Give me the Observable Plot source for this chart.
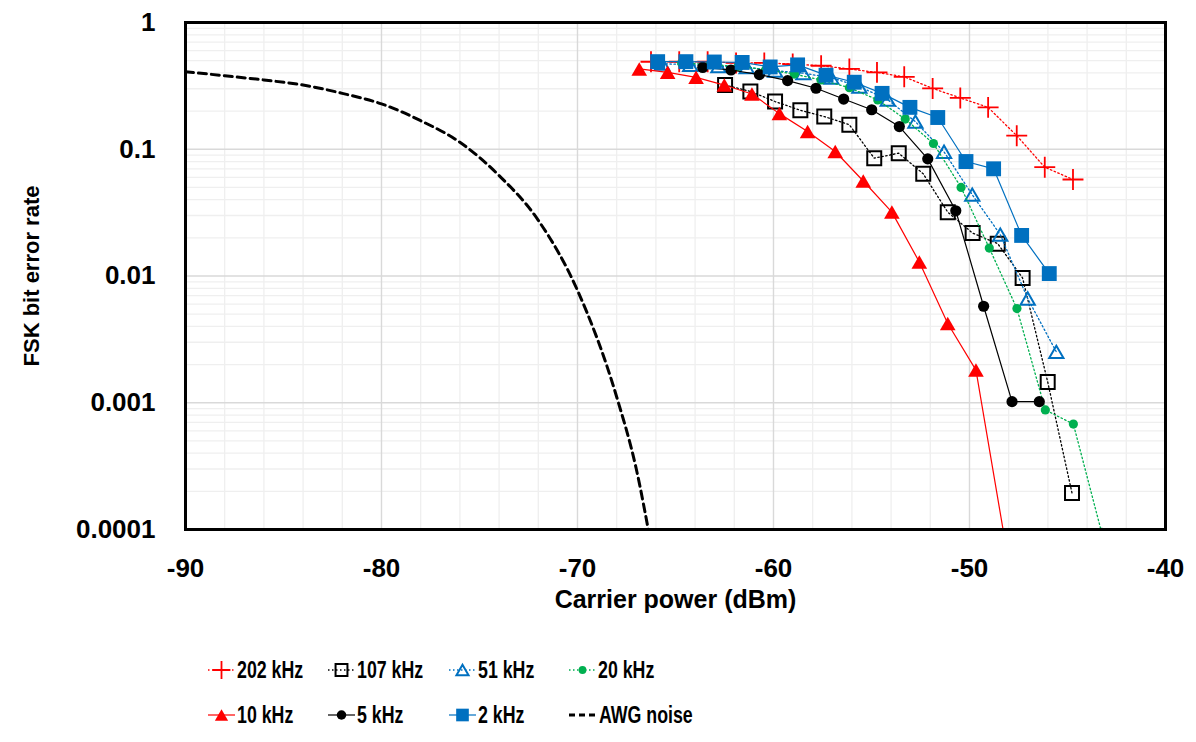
<!DOCTYPE html>
<html><head><meta charset="utf-8">
<script src="https://cdn.jsdelivr.net/npm/d3@7"></script>
<script src="https://cdn.jsdelivr.net/npm/@observablehq/plot@0.6"></script>
<style>
body{margin:0;background:#fff;font-family:"Liberation Sans",Arial,sans-serif;}
#wrap{position:relative;width:1196px;height:742px;overflow:hidden;background:#fff;}
#chart{position:absolute;left:0;top:0;}
.leg{position:absolute;height:30px;}
.leg svg{position:absolute;left:0;top:0;}
.leg span{position:absolute;left:29px;top:0;line-height:30px;font-weight:bold;font-size:24px;display:inline-block;transform:scaleX(0.74);transform-origin:left center;white-space:nowrap;color:#000;}
</style></head><body><div id="wrap"><div id="chart"></div></div>
<script>
// ---- data ----
const seriesNames = ["202 kHz","107 kHz","51 kHz","20 kHz","10 kHz","5 kHz","2 kHz","AWG noise"];

const x202 = [-66.25,-64.81,-63.36,-61.91,-60.47,-59.02,-57.57,-56.13,-54.72,-53.33,-51.88,-50.47,-49.05,-47.59,-46.16,-44.72];
const y202 = [0.49,0.49,0.49,0.48,0.48,0.47,0.456,0.43,0.404,0.373,0.302,0.254,0.214,0.128,0.0722,0.0577];

const x107 = [-62.47,-61.18,-59.92,-58.63,-57.41,-56.13,-54.86,-53.61,-52.36,-51.11,-49.84,-48.56,-47.29,-46.01,-44.77];
const y107 = [0.321,0.286,0.238,0.203,0.181,0.156,0.085,0.0931,0.064,0.0319,0.0218,0.018,0.00964,0.00146,0.000194];

const x51 = [-65.69,-64.25,-62.81,-61.37,-59.92,-58.48,-57.05,-55.62,-54.17,-52.76,-51.30,-49.86,-48.43,-47.03,-45.57];
const y51 = [0.473,0.464,0.452,0.444,0.417,0.398,0.367,0.312,0.246,0.165,0.0954,0.0438,0.0212,0.00664,0.00252];

const x20 = [-64.69,-63.24,-61.81,-60.39,-58.94,-57.58,-56.13,-54.68,-53.28,-51.84,-50.43,-48.99,-47.58,-46.13,-44.70,-43.26];
const y20 = [0.48,0.465,0.45,0.425,0.392,0.352,0.306,0.245,0.173,0.111,0.050,0.0166,0.00553,0.000877,0.000679,0.000095];

const x10 = [-66.85,-65.40,-63.95,-62.51,-61.10,-59.70,-58.26,-56.85,-55.42,-53.96,-52.56,-51.11,-49.67,-48.21];
const y10 = [0.43,0.404,0.369,0.321,0.273,0.191,0.138,0.096,0.0562,0.0319,0.0129,0.00422,0.00181,0.000085];

const x5 = [-63.61,-62.17,-60.72,-59.28,-57.83,-56.42,-54.99,-53.58,-52.13,-50.70,-49.28,-47.83,-46.44];
const y5 = [0.442,0.422,0.388,0.348,0.303,0.249,0.205,0.151,0.084,0.0327,0.00577,0.00102,0.00102];

const x2 = [-65.91,-64.47,-63.02,-61.60,-60.17,-58.77,-57.32,-55.88,-54.46,-53.04,-51.62,-50.18,-48.77,-47.34,-45.93];
const y2 = [0.491,0.491,0.488,0.484,0.446,0.463,0.384,0.338,0.276,0.214,0.178,0.080,0.0701,0.0209,0.01045];

const xAwg = [-90,-88,-86,-84,-82,-80,-78,-76,-74,-72,-70,-68,-67,-66.2];
const yAwg = [0.409,0.38,0.352,0.321,0.276,0.228,0.168,0.1135,0.062,0.0275,0.0077,0.00111,0.0003,0.000069];

const xTicks = [-90,-80,-70,-60,-50,-40];
const yTicks = [1,0.1,0.01,0.001,0.0001];
const yTickLabels = ["1","0.1","0.01","0.001","0.0001"];
const xTitle = "Carrier power (dBm)";
const yTitle = "FSK bit error rate";

// ---- styles ----
const RED="#ff0000", BLUE="#0070c0", GREEN="#00b050", BLACK="#000000";
const styles = [
  {name:"202 kHz", xs:x202, ys:y202, stroke:RED, dash:"1.5,2.5", lw:1.3, symbol:"plus", r:6.8, fill:"none", mstroke:RED, msw:1.8, dy:0},
  {name:"107 kHz", xs:x107, ys:y107, stroke:BLACK, dash:"1.5,2.5", lw:1.3, symbol:"square2", r:8.9, fill:"none", mstroke:BLACK, msw:2, dy:0},
  {name:"51 kHz", xs:x51, ys:y51, stroke:BLUE, dash:"1.5,2.5", lw:1.3, symbol:"triangle2", r:6.8, fill:"none", mstroke:BLUE, msw:2, dy:2},
  {name:"20 kHz", xs:x20, ys:y20, stroke:GREEN, dash:"1.5,2.5", lw:1.3, symbol:"circle", r:4.6, fill:GREEN, mstroke:"none", msw:0, dy:0},
  {name:"10 kHz", xs:x10, ys:y10, stroke:RED, dash:null, lw:1.2, symbol:"triangle", r:5.8, fill:RED, mstroke:"none", msw:0, dy:2.2},
  {name:"5 kHz", xs:x5, ys:y5, stroke:BLACK, dash:null, lw:1.2, symbol:"circle", r:5.6, fill:BLACK, mstroke:"none", msw:0, dy:0},
  {name:"2 kHz", xs:x2, ys:y2, stroke:BLUE, dash:null, lw:1.2, symbol:"square", r:8.4, fill:BLUE, mstroke:"none", msw:0, dy:0},
];

const xMinor = d3.range(-90, -39, 2).filter(v => v % 10 !== 0);
const yMinor = [];
for (const dec of [0.0001,0.001,0.01,0.1]) for (let k=2;k<=9;k++) yMinor.push(k*dec);

const marks = [
  Plot.ruleX(xMinor, {stroke:"#efefef", strokeWidth:1.3}),
  Plot.ruleY(yMinor, {stroke:"#efefef", strokeWidth:1.3}),
  Plot.ruleX(xTicks, {stroke:"#d9d9d9", strokeWidth:1.4}),
  Plot.ruleY(yTicks, {stroke:"#d9d9d9", strokeWidth:1.4}),
];
for (const s of styles) {
  const rows = s.xs.map((x,i)=>({x, y:s.ys[i]}));
  marks.push(Plot.line(rows, {x:"x", y:"y", stroke:s.stroke, strokeWidth:s.lw, strokeDasharray:s.dash, clip:true}));
  marks.push(Plot.dot(rows, {x:"x", y:"y", symbol:s.symbol, r:s.r, fill:s.fill, stroke:s.mstroke, strokeWidth:s.msw, dy:s.dy, clip:true}));
}
const awgRows = xAwg.map((x,i)=>({x, y:yAwg[i]}));
marks.push(Plot.line(awgRows, {x:"x", y:"y", stroke:BLACK, strokeWidth:3, strokeDasharray:"8,5", curve:"monotone-x", clip:true}));
marks.push(Plot.frame({stroke:BLACK, strokeWidth:3}));
marks.push(Plot.axisX({ticks:xTicks, tickSize:0, tickPadding:29, tickFormat:d=>String(d), fontSize:26, fontWeight:"bold", label:null}));
marks.push(Plot.axisY({ticks:yTicks, tickSize:0, tickPadding:30, tickFormat:d=>yTickLabels[yTicks.indexOf(d)], fontSize:26, fontWeight:"bold", label:null}));
marks.push(Plot.text([xTitle], {frameAnchor:"bottom", dy:78, fontSize:25, fontWeight:"bold", fill:BLACK}));
marks.push(Plot.text([yTitle], {frameAnchor:"left", dx:-154, rotate:-90, textAnchor:"middle", fontSize:22, fontWeight:"bold", fill:BLACK}));

const chart = Plot.plot({
  width:1196, height:640,
  marginLeft:185, marginRight:31, marginTop:22, marginBottom:111,
  x:{domain:[-90,-40]},
  y:{type:"log", domain:[1e-4,1]},
  style:{fontFamily:'"Liberation Sans", Arial, sans-serif', fontWeight:"bold", fontSize:"26px", background:"white", color:"black", overflow:"visible"},
  marks
});
document.getElementById("chart").appendChild(chart);

// ---- legend ----
const symMap = {plus:d3.symbolPlus, square2:d3.symbolSquare2, triangle2:d3.symbolTriangle2, circle:d3.symbolCircle, triangle:d3.symbolTriangle, square:d3.symbolSquare};
const legendOrder = [
  {name:"202 kHz", col:0, row:0},{name:"107 kHz", col:1, row:0},{name:"51 kHz", col:2, row:0},{name:"20 kHz", col:3, row:0},
  {name:"10 kHz", col:0, row:1},{name:"5 kHz", col:1, row:1},{name:"2 kHz", col:2, row:1},{name:"AWG noise", col:3, row:1}
];
const colLeft = [208, 328, 449, 569];
const rowTop = [655, 700];
const wrap = document.getElementById("wrap");
for (const item of legendOrder) {
  const div = document.createElement("div");
  div.className = "leg";
  div.style.left = colLeft[item.col] + "px";
  div.style.top = rowTop[item.row] + "px";
  const ns = "http://www.w3.org/2000/svg";
  const svg = document.createElementNS(ns, "svg");
  svg.setAttribute("width", 30); svg.setAttribute("height", 30);
  const line = document.createElementNS(ns, "line");
  line.setAttribute("x1", 0); line.setAttribute("x2", 27); line.setAttribute("y1", 15); line.setAttribute("y2", 15);
  if (item.name === "AWG noise") {
    line.setAttribute("stroke", BLACK); line.setAttribute("stroke-width", 3); line.setAttribute("stroke-dasharray", "6,4");
    svg.appendChild(line);
  } else {
    const s = styles.find(d => d.name === item.name);
    line.setAttribute("stroke", s.stroke); line.setAttribute("stroke-width", s.lw);
    if (s.dash) line.setAttribute("stroke-dasharray", s.dash);
    svg.appendChild(line);
    const r = s.r * 0.85;
    const p = document.createElementNS(ns, "path");
    p.setAttribute("d", d3.symbol(symMap[s.symbol], Math.PI * r * r)());
    p.setAttribute("transform", `translate(13.5,${15 + s.dy*0.85})`);
    p.setAttribute("fill", s.fill);
    p.setAttribute("stroke", s.mstroke);
    p.setAttribute("stroke-width", s.msw || 0);
    svg.appendChild(p);
  }
  div.appendChild(svg);
  const span = document.createElement("span");
  span.textContent = item.name;
  if (item.name === "AWG noise") span.style.left = "30px";
  div.appendChild(span);
  wrap.appendChild(div);
}
</script>
</body></html>
